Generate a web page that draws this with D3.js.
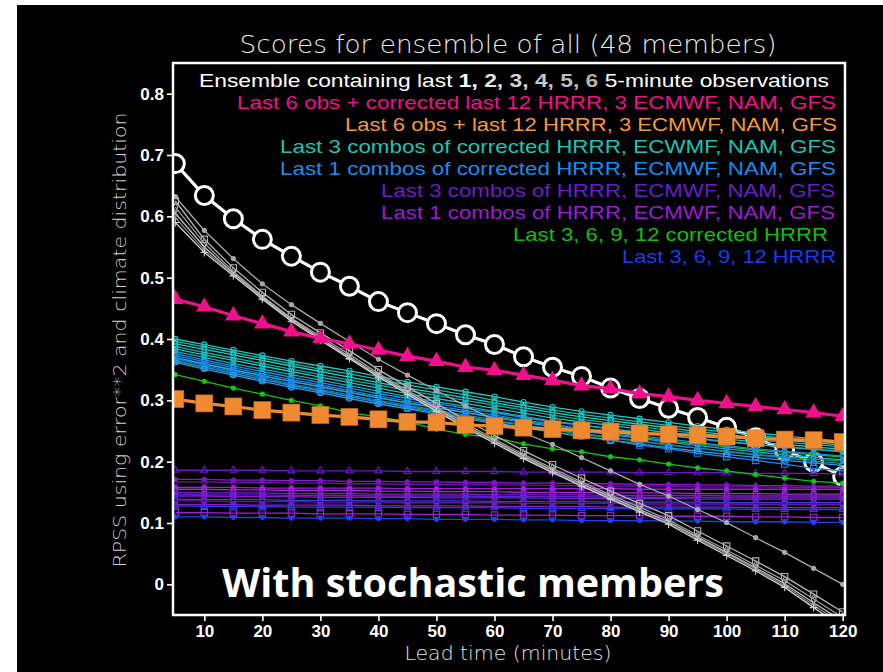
<!DOCTYPE html>
<html><head><meta charset="utf-8">
<script src="https://cdn.jsdelivr.net/npm/d3@7"></script>
<style>
html,body{margin:0;padding:0;background:#fff;}
svg{display:block;}
</style></head>
<body>
<svg id="chart" width="883" height="672"></svg>
<script>
// ---------------- DATA ----------------
const minutes = [5,10,15,20,25,30,35,40,45,50,55,60,65,70,75,80,85,90,95,100,105,110,115,120];
const xTicks = [10,20,30,40,50,60,70,80,90,100,110,120];
const yTicks = [0,0.1,0.2,0.3,0.4,0.5,0.6,0.7,0.8];

// ensemble of all 48 members (white circles)
const allMembers = [0.686,0.634,0.596,0.5625,0.535,0.509,0.486,0.461,0.443,0.425,0.407,0.391,0.371,0.354,0.339,0.320,0.303,0.287,0.272,0.256,0.239,0.218,0.199,0.176];
// last 6 obs + corrected last 12 HRRR, 3 ECMWF, NAM, GFS (magenta)
const obsCorrected = [0.465,0.4525,0.438,0.425,0.412,0.401,0.392,0.382,0.372,0.364,0.354,0.349,0.341,0.333,0.324,0.319,0.311,0.306,0.300,0.295,0.290,0.285,0.280,0.274];
// last 6 obs + last 12 HRRR, 3 ECMWF, NAM, GFS (orange)
const obsRaw = [0.302,0.295,0.290,0.284,0.280,0.276,0.273,0.269,0.265,0.264,0.260,0.258,0.2555,0.253,0.251,0.249,0.246,0.2445,0.243,0.241,0.238,0.236,0.235,0.232];

// observation-only ensembles (gray)
const obs1 = [0.632,0.577,0.531,0.490,0.456,0.4255,0.396,0.367,0.341,0.316,0.291,0.268,0.247,0.228,0.2065,0.185,0.163,0.144,0.122,0.1006,0.076,0.052,0.026,0.0];
const obs2 = [0.625,0.5625,0.516,0.476,0.440,0.410,0.381,0.350,0.322,0.295,0.268,0.243,0.218,0.195,0.173,0.152,0.132,0.112,0.087,0.0625,0.038,0.0125,-0.016,-0.045];
const obs3 = [0.615,0.556,0.510,0.470,0.434,0.404,0.375,0.344,0.316,0.289,0.262,0.237,0.212,0.189,0.167,0.146,0.126,0.105,0.080,0.056,0.031,0.006,-0.024,-0.054];
const obs4 = [0.605,0.550,0.507,0.468,0.432,0.401,0.371,0.341,0.313,0.286,0.259,0.234,0.209,0.186,0.164,0.143,0.122,0.102,0.077,0.052,0.027,0.001,-0.030,-0.060];
const obs5 = [0.598,0.545,0.505,0.466,0.430,0.399,0.369,0.339,0.311,0.284,0.257,0.232,0.207,0.184,0.162,0.141,0.120,0.100,0.075,0.050,0.025,-0.002,-0.034,-0.065];
const obs6 = [0.590,0.541,0.503,0.465,0.429,0.398,0.368,0.338,0.310,0.282,0.255,0.230,0.205,0.182,0.160,0.139,0.118,0.098,0.072,0.047,0.022,-0.005,-0.038,-0.070];

// last 3 combos of corrected HRRR, ECMWF, NAM, GFS (teal)
const teal1 = [0.400,0.391,0.382,0.373,0.364,0.356,0.348,0.339,0.330,0.322,0.314,0.306,0.297,0.289,0.282,0.276,0.270,0.264,0.258,0.252,0.247,0.242,0.237,0.233];
const teal2 = [0.396,0.387,0.378,0.369,0.360,0.351,0.343,0.334,0.325,0.317,0.309,0.300,0.292,0.284,0.277,0.271,0.265,0.259,0.253,0.248,0.243,0.238,0.234,0.230];
const teal3 = [0.392,0.383,0.374,0.365,0.356,0.347,0.338,0.329,0.320,0.312,0.304,0.296,0.288,0.280,0.273,0.267,0.261,0.255,0.249,0.244,0.239,0.235,0.231,0.227];
const teal4 = [0.388,0.378,0.369,0.360,0.351,0.342,0.333,0.325,0.316,0.308,0.300,0.292,0.284,0.276,0.269,0.263,0.257,0.251,0.246,0.241,0.236,0.232,0.228,0.224];
const teal5 = [0.384,0.374,0.365,0.356,0.347,0.338,0.329,0.320,0.311,0.303,0.295,0.287,0.279,0.271,0.265,0.259,0.253,0.247,0.242,0.237,0.232,0.228,0.224,0.220];
const teal6 = [0.380,0.370,0.360,0.351,0.342,0.333,0.324,0.315,0.306,0.298,0.290,0.282,0.274,0.266,0.260,0.254,0.248,0.243,0.238,0.233,0.228,0.224,0.220,0.216];

// last 1 combos of corrected HRRR, ECMWF, NAM, GFS (light blue)
const lblue1 = [0.376,0.366,0.356,0.347,0.338,0.329,0.320,0.311,0.303,0.295,0.287,0.280,0.272,0.265,0.259,0.253,0.247,0.242,0.237,0.232,0.228,0.224,0.220,0.217];
const lblue2 = [0.373,0.363,0.353,0.343,0.334,0.325,0.316,0.307,0.299,0.291,0.283,0.276,0.268,0.261,0.254,0.248,0.242,0.237,0.231,0.226,0.221,0.217,0.213,0.209];
const lblue3 = [0.370,0.360,0.350,0.340,0.331,0.322,0.313,0.304,0.296,0.288,0.280,0.272,0.264,0.257,0.250,0.244,0.238,0.232,0.226,0.221,0.216,0.211,0.207,0.203];
const lblue4 = [0.368,0.357,0.347,0.337,0.327,0.318,0.309,0.300,0.292,0.284,0.276,0.268,0.260,0.253,0.246,0.240,0.234,0.228,0.222,0.216,0.211,0.206,0.201,0.197];
const lblue5 = [0.365,0.354,0.344,0.334,0.324,0.315,0.306,0.297,0.288,0.280,0.272,0.264,0.256,0.249,0.242,0.235,0.227,0.221,0.214,0.208,0.202,0.196,0.189,0.185];
const lblue6 = [0.362,0.351,0.341,0.331,0.321,0.312,0.303,0.294,0.286,0.278,0.270,0.262,0.255,0.248,0.241,0.235,0.229,0.223,0.217,0.212,0.207,0.202,0.198,0.194];

// last 3, 6, 9, 12 corrected HRRR (green)
const green1 = [0.342,0.331,0.320,0.310,0.300,0.291,0.280,0.273,0.265,0.253,0.2445,0.239,0.229,0.221,0.216,0.208,0.203,0.196,0.190,0.185,0.179,0.173,0.168,0.165];
const green2 = [0.364,0.354,0.344,0.334,0.325,0.316,0.307,0.298,0.290,0.282,0.274,0.266,0.259,0.252,0.245,0.239,0.233,0.227,0.222,0.217,0.212,0.208,0.204,0.201];
const green3 = [0.369,0.359,0.349,0.340,0.331,0.322,0.313,0.304,0.296,0.288,0.280,0.273,0.266,0.259,0.252,0.246,0.240,0.234,0.229,0.224,0.219,0.215,0.211,0.208];

// last 3 / last 1 combos of HRRR, ECMWF, NAM, GFS and last 3,6,9,12 HRRR (purple / blue)
const purple1 = [0.186,0.186,0.186,0.186,0.185,0.185,0.185,0.185,0.184,0.184,0.184,0.184,0.183,0.183,0.183,0.183,0.182,0.182,0.182,0.182,0.181,0.181,0.181,0.180];
const purple2 = [0.171,0.171,0.170,0.170,0.169,0.169,0.168,0.168,0.167,0.167,0.166,0.166,0.165,0.165,0.164,0.164,0.163,0.163,0.162,0.162,0.161,0.161,0.160,0.160];
const purple3 = [0.167,0.167,0.166,0.166,0.165,0.165,0.164,0.164,0.163,0.163,0.163,0.162,0.162,0.161,0.161,0.160,0.160,0.160,0.159,0.159,0.159,0.158,0.158,0.158];
const purple4 = [0.158,0.158,0.158,0.157,0.157,0.157,0.157,0.157,0.156,0.156,0.156,0.156,0.156,0.156,0.156,0.156,0.155,0.155,0.155,0.155,0.155,0.155,0.155,0.155];
const purple5 = [0.155,0.155,0.154,0.154,0.153,0.153,0.153,0.152,0.152,0.151,0.151,0.151,0.150,0.150,0.150,0.149,0.149,0.149,0.148,0.148,0.148,0.147,0.147,0.147];
const purple6 = [0.150,0.149,0.149,0.149,0.148,0.148,0.148,0.147,0.147,0.147,0.147,0.146,0.146,0.146,0.146,0.145,0.145,0.145,0.145,0.144,0.144,0.144,0.144,0.144];
const purple7 = [0.147,0.146,0.146,0.146,0.145,0.145,0.145,0.144,0.144,0.144,0.144,0.143,0.143,0.143,0.143,0.142,0.142,0.142,0.142,0.141,0.141,0.141,0.141,0.141];
const purple8 = [0.144,0.144,0.143,0.143,0.143,0.142,0.142,0.142,0.142,0.141,0.141,0.141,0.141,0.140,0.140,0.140,0.140,0.140,0.139,0.139,0.139,0.139,0.139,0.139];
const purple9 = [0.139,0.138,0.138,0.138,0.137,0.137,0.137,0.136,0.136,0.136,0.136,0.135,0.135,0.135,0.135,0.134,0.134,0.134,0.134,0.133,0.133,0.133,0.133,0.133];
const purple10 = [0.136,0.136,0.135,0.135,0.135,0.134,0.134,0.134,0.133,0.133,0.133,0.133,0.132,0.132,0.132,0.132,0.131,0.131,0.131,0.131,0.130,0.130,0.130,0.130];
const purple11 = [0.130,0.130,0.130,0.129,0.129,0.129,0.129,0.128,0.128,0.128,0.128,0.127,0.127,0.127,0.127,0.126,0.126,0.126,0.126,0.126,0.125,0.125,0.125,0.125];
const purple12 = [0.128,0.127,0.127,0.127,0.126,0.126,0.126,0.126,0.125,0.125,0.125,0.125,0.124,0.124,0.124,0.124,0.123,0.123,0.123,0.123,0.122,0.122,0.122,0.122];
const purple13 = [0.117,0.117,0.116,0.116,0.116,0.115,0.115,0.115,0.114,0.114,0.114,0.113,0.113,0.113,0.112,0.112,0.112,0.111,0.111,0.111,0.110,0.110,0.109,0.109];
const purple14 = [0.110,0.110,0.109,0.109,0.108,0.108,0.108,0.107,0.107,0.106,0.106,0.106,0.105,0.105,0.104,0.104,0.104,0.103,0.103,0.102,0.102,0.102,0.101,0.101];

const legendLines = [
  "Last 6 obs + corrected last 12 HRRR, 3 ECMWF, NAM, GFS",
  "Last 6 obs + last 12 HRRR, 3 ECMWF, NAM, GFS",
  "Last 3 combos of corrected HRRR, ECWMF, NAM, GFS",
  "Last 1 combos of corrected HRRR, ECMWF, NAM, GFS",
  "Last 3 combos of HRRR, ECMWF, NAM, GFS",
  "Last 1 combos of HRRR, ECMWF, NAM, GFS",
  "Last 3, 6, 9, 12 corrected HRRR",
  "Last 3, 6, 9, 12 HRRR"
];

// ---------------- STYLES ----------------
const S = {circle:d3.symbolCircle, square:d3.symbolSquare, tri:d3.symbolTriangle, diamond:d3.symbolDiamond,
           plus:d3.symbolPlus || d3.symbolCross, times:d3.symbolTimes || d3.symbolX || d3.symbolCross,
           aster:d3.symbolAsterisk || d3.symbolCross};

const thinSeries = [
  {v:purple1, c:"#6c16c6", m:"tri", f:false},
  {v:purple2, c:"#8a1ccc", m:"circle", f:true},
  {v:purple3, c:"#7010b8", m:"diamond", f:false},
  {v:purple4, c:"#9c20d8", m:"circle", f:true},
  {v:purple5, c:"#a824e0", m:"square", f:false},
  {v:purple6, c:"#7e1cc8", m:"tri", f:false},
  {v:purple7, c:"#5028d0", m:"circle", f:true},
  {v:purple8, c:"#8818c0", m:"square", f:false},
  {v:purple9, c:"#3042e0", m:"circle", f:false},
  {v:purple10, c:"#6a10a8", m:"diamond", f:false},
  {v:purple11, c:"#9018c8", m:"square", f:false},
  {v:purple12, c:"#2a3ce8", m:"tri", f:false},
  {v:purple13, c:"#a020d8", m:"square", f:false, big:true},
  {v:purple14, c:"#1a44f0", m:"circle", f:true},
  {v:green1, c:"#10c810", m:"circle", f:true},
  {v:green2, c:"#12b012", m:"circle", f:true},
  {v:green3, c:"#18c020", m:"square", f:false},
  {v:lblue1, c:"#1e90ff", m:"circle", f:false},
  {v:lblue2, c:"#1a86e8", m:"diamond", f:false},
  {v:lblue3, c:"#2a9cf0", m:"circle", f:true},
  {v:lblue4, c:"#1478d8", m:"tri", f:false},
  {v:lblue5, c:"#1c80f0", m:"square", f:false, big:true},
  {v:lblue6, c:"#3098e0", m:"circle", f:false},
  {v:teal1, c:"#22c8c0", m:"circle", f:false},
  {v:teal2, c:"#18b8b0", m:"circle", f:false},
  {v:teal3, c:"#26d0c4", m:"diamond", f:false},
  {v:teal4, c:"#14a8a8", m:"circle", f:false},
  {v:teal5, c:"#2ac0c8", m:"square", f:false},
  {v:teal6, c:"#18b0b8", m:"circle", f:true},
];
const graySeries = [
  {v:obs1, c:"#a8a8a8", m:"circle", f:true},
  {v:obs2, c:"#b4b4b4", m:"square", f:false, big:true},
  {v:obs3, c:"#9a9a9a", m:"diamond", f:false},
  {v:obs4, c:"#c0c0c0", m:"times", f:false},
  {v:obs5, c:"#8c8c8c", m:"aster", f:false},
  {v:obs6, c:"#cccccc", m:"plus", f:false},
];
const legendColors = ["#f0108c","#f59a3a","#1ec4b4","#1a8cf0","#6a1ec8","#9a1ed2","#10c010","#1a3cf0"];

// ---------------- DRAW ----------------
const svg = d3.select("#chart");
const L=173, R=845, T=63, B=615;
const x = d3.scaleLinear([4.6,120.4],[L,R]);
const y = d3.scaleLinear([-0.05,0.85],[B,T]);

svg.append("rect").attr("x",0).attr("y",0).attr("width",883).attr("height",672).attr("fill","#fff");
svg.append("rect").attr("x",17).attr("y",5).attr("width",866).attr("height",667).attr("fill","#000");

svg.append("clipPath").attr("id","plotclip").append("rect")
  .attr("x",L).attr("y",T).attr("width",R-L).attr("height",B-T);

const plot = svg.append("g").attr("clip-path","url(#plotclip)");
const line = d3.line().x((d,i)=>x(minutes[i])).y(d=>y(d));

function drawThin(s){
  const g = plot.append("g");
  g.append("path").attr("d",line(s.v)).attr("fill","none").attr("stroke",s.c).attr("stroke-width",1.3);
  const sym = d3.symbol().type(S[s.m]).size(s.big?40:(s.m==="circle"&&s.f?14:22));
  g.selectAll("path.m").data(s.v).join("path").attr("class","m")
    .attr("transform",(d,i)=>`translate(${x(minutes[i])},${y(d)})`)
    .attr("d",sym)
    .attr("fill",s.f?s.c:"none").attr("stroke",s.c).attr("stroke-width",1.1);
}

const gw = plot.append("g");
gw.append("path").attr("d",line(allMembers)).attr("fill","none").attr("stroke","#fff").attr("stroke-width",3.2);
gw.selectAll("circle").data(allMembers).join("circle")
  .attr("cx",(d,i)=>x(minutes[i])).attr("cy",d=>y(d)).attr("r",9)
  .attr("fill","#000").attr("stroke","#fff").attr("stroke-width",3);

thinSeries.forEach(drawThin);
graySeries.forEach(drawThin);

const gm = plot.append("g");
gm.append("path").attr("d",line(obsCorrected)).attr("fill","none").attr("stroke","#f0108c").attr("stroke-width",3.2);
gm.selectAll("path.m").data(obsCorrected).join("path").attr("class","m")
  .attr("transform",(d,i)=>`translate(${x(minutes[i])},${y(d)})`)
  .attr("d",d3.symbol().type(d3.symbolTriangle).size(120)).attr("fill","#f0108c");

const go = plot.append("g");
go.append("path").attr("d",line(obsRaw)).attr("fill","none").attr("stroke","#f08a30").attr("stroke-width",3.2);
go.selectAll("rect").data(obsRaw).join("rect")
  .attr("x",(d,i)=>x(minutes[i])-8.5).attr("y",d=>y(d)-8.5).attr("width",17).attr("height",17)
  .attr("fill","#f08a30").attr("stroke","#c86a20").attr("stroke-width",0.6);

svg.append("rect").attr("x",L).attr("y",T).attr("width",R-L).attr("height",B-T)
  .attr("fill","none").attr("stroke","#fff").attr("stroke-width",2.5);

const tickFont = "'Liberation Sans', Arial, sans-serif";
const ya = svg.append("g").attr("transform",`translate(${L},0)`)
  .call(d3.axisLeft(y).tickValues(yTicks).tickSize(6).tickPadding(3).tickFormat(d=>d===0?"0":d3.format(".1f")(d)));
const xa = svg.append("g").attr("transform",`translate(0,${B})`)
  .call(d3.axisBottom(x).tickValues(xTicks).tickSize(6).tickPadding(4).tickFormat(d3.format("d")));
[ya,xa].forEach(a=>{
  a.select(".domain").remove();
  a.selectAll(".tick line").attr("stroke","#fff").attr("stroke-width",1.6);
  a.selectAll(".tick text").attr("fill","#fff").attr("font-family",tickFont)
   .attr("font-weight","bold").attr("font-size",17);
});

const thinFont = "'DejaVu Sans', sans-serif";
svg.append("text").attr("x",508).attr("y",53).attr("text-anchor","middle")
  .attr("font-family",thinFont).attr("font-weight",200).attr("font-size",24)
  .attr("fill","#e8e8e8").attr("textLength",537).attr("lengthAdjust","spacingAndGlyphs")
  .text("Scores for ensemble of all (48 members)");
svg.append("text").attr("x",508).attr("y",660).attr("text-anchor","middle")
  .attr("font-family",thinFont).attr("font-weight",200).attr("font-size",19)
  .attr("fill","#e0e0e0").attr("textLength",207).attr("lengthAdjust","spacingAndGlyphs")
  .text("Lead time (minutes)");
svg.append("text").attr("transform","translate(126,340) rotate(-90)").attr("text-anchor","middle")
  .attr("font-family",thinFont).attr("font-weight",200).attr("font-size",18)
  .attr("fill","#cfcfcf").attr("textLength",455).attr("lengthAdjust","spacingAndGlyphs")
  .text("RPSS using error**2 and climate distribution");

// legend
const legFont = "'Liberation Sans', Arial, sans-serif";
const legSize = 19;
const l0 = svg.append("text").attr("x",829).attr("y",87).attr("text-anchor","end")
  .attr("font-family",legFont).attr("font-size",legSize).attr("fill","#fff")
  .attr("textLength",630).attr("lengthAdjust","spacingAndGlyphs");
l0.append("tspan").text("Ensemble containing last ");
const nums = ["1","2","3","4","5","6"];
const numCols = ["#ffffff","#e4e4e4","#d4d4d4","#c8c8c8","#bcbcbc","#b0b0b0"];
nums.forEach((n,i)=>{
  l0.append("tspan").attr("font-weight","bold").attr("fill",numCols[i]).text(n + (i<5?", ":""));
});
l0.append("tspan").text("  5-minute observations");

const legRight = [836,837,836,836,835,835,828,836];
const legWidth = [599,492,556,556,454,454,315,214];
const legBase = [109,131,153,175,197,219,241,263];
legendLines.forEach((t,i)=>{
  svg.append("text").attr("x",legRight[i]).attr("y",legBase[i]).attr("text-anchor","end")
    .attr("font-family",legFont).attr("font-size",legSize).attr("fill",legendColors[i])
    .attr("textLength",legWidth[i]).attr("lengthAdjust","spacingAndGlyphs").text(t);
});

svg.append("text").attr("x",222).attr("y",597)
  .attr("font-family","'Open Sans', Lato, sans-serif").attr("font-weight","bold").attr("font-size",40)
  .attr("fill","#fff").attr("textLength",502).attr("lengthAdjust","spacingAndGlyphs")
  .text("With stochastic members");
</script>
</body></html>
